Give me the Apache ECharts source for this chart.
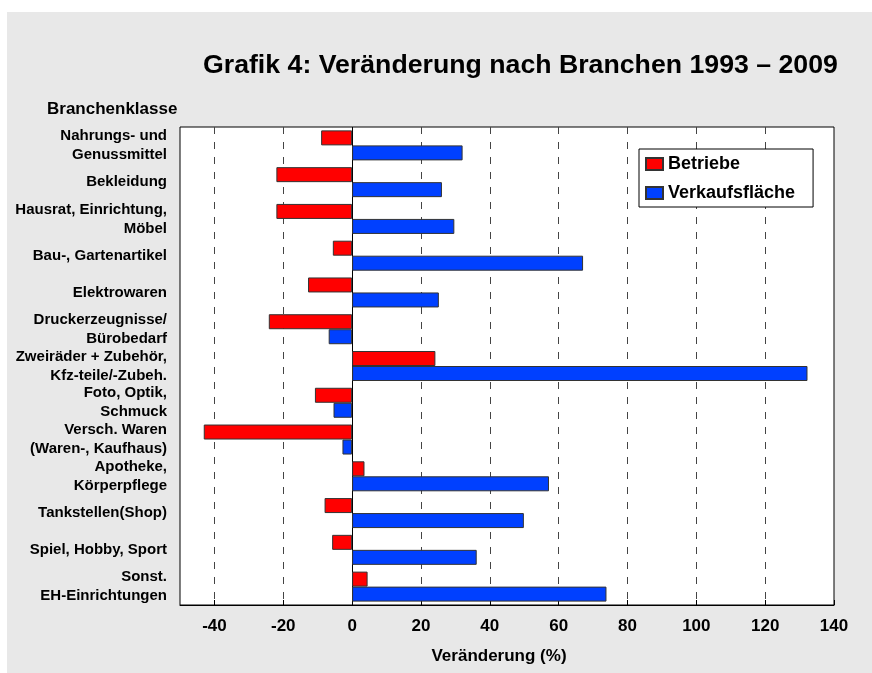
<!DOCTYPE html>
<html>
<head>
<meta charset="utf-8">
<script src="https://cdn.jsdelivr.net/npm/echarts@6/dist/echarts.min.js"></script>
<style>
  html, body { margin: 0; padding: 0; background: #fff; }
  #chart { position: absolute; left: 7px; top: 12px; width: 865px; height: 661px; }
</style>
</head>
<body>
<div id="chart"></div>
<script>
const categories = [
  'Nahrungs- und\nGenussmittel',
  'Bekleidung',
  'Hausrat, Einrichtung,\nMöbel',
  'Bau-, Gartenartikel',
  'Elektrowaren',
  'Druckerzeugnisse/\nBürobedarf',
  'Zweiräder + Zubehör,\nKfz-teile/-Zubeh.',
  'Foto, Optik,\nSchmuck',
  'Versch. Waren\n(Waren-, Kaufhaus)',
  'Apotheke,\nKörperpflege',
  'Tankstellen(Shop)',
  'Spiel, Hobby, Sport',
  'Sonst.\nEH-Einrichtungen'
]
const betriebe = [-9.0, -22.0, -22.0, -5.6, -12.8, -24.2, 24.2, -10.8, -43.1, 3.6, -8.0, -5.8, 4.5]
const verkaufsflaeche = [32.1, 26.1, 29.7, 67.1, 25.2, -6.8, 132.3, -5.4, -2.8, 57.2, 49.9, 36.2, 73.9]
const xTicks = [-40, -20, 0, 20, 40, 60, 80, 100, 120, 140]

const font = 'Liberation Sans, Arial, Helvetica, sans-serif'
const chart = echarts.init(document.getElementById('chart'))

// dashed vertical grid lines + solid zero line
const gridLines = xTicks
  .filter(v => v !== 0 && v !== 140)
  .map(v => ({ xAxis: v }))
gridLines.push({ xAxis: 0, lineStyle: { type: 'solid', color: '#000', width: 1 } })

chart.setOption({
  backgroundColor: '#e8e8e8',
  animation: false,
  title: [
    {
      text: 'Grafik 4: Veränderung nach Branchen 1993 – 2009',
      left: 191,
      top: 35,
      textStyle: { fontFamily: font, fontSize: 26.7, fontWeight: 'bold', color: '#000' }
    },
    {
      text: 'Branchenklasse',
      left: 35,
      top: 84,
      textStyle: { fontFamily: font, fontSize: 17, fontWeight: 'bold', color: '#000' }
    }
  ],
  legend: {
    orient: 'vertical',
    left: 632,
    top: 137,
    icon: 'rect',
    backgroundColor: '#fff',
    borderColor: '#000',
    borderWidth: 1,
    padding: [6, 18, 5, 6],
    itemWidth: 17,
    itemHeight: 12,
    itemGap: 11,
    textStyle: { fontFamily: font, fontSize: 18, fontWeight: 'bold', color: '#000', lineHeight: 17 },
    data: ['Betriebe', 'Verkaufsfläche']
  },
  grid: {
    left: 173,
    top: 115,
    right: 38,
    bottom: 68,
    show: true,
    backgroundColor: '#fff',
    borderColor: '#000',
    borderWidth: 1
  },
  xAxis: {
    type: 'value',
    min: -50,
    max: 140,
    name: 'Veränderung (%)',
    nameLocation: 'middle',
    nameGap: 43,
    nameTextStyle: { fontFamily: font, fontSize: 17, fontWeight: 'bold', color: '#000', padding: [0, 16, 0, 0] },
    axisLine: { show: true, lineStyle: { color: '#000' } },
    axisTick: { show: true, inside: true, length: 5, customValues: xTicks, lineStyle: { color: '#000' } },
    axisLabel: {
      customValues: xTicks,
      margin: 13,
      fontFamily: font,
      fontSize: 17,
      fontWeight: 'bold',
      color: '#000'
    },
    splitLine: { show: false }
  },
  yAxis: {
    type: 'category',
    inverse: true,
    data: categories,
    axisLine: { show: false, onZero: false },
    axisTick: { show: false },
    axisLabel: {
      margin: 13,
      fontFamily: font,
      fontSize: 15,
      fontWeight: 'bold',
      lineHeight: 19,
      color: '#000'
    }
  },
  series: [
    {
      name: 'Betriebe',
      type: 'bar',
      data: betriebe,
      barWidth: 15,
      barGap: '0%',
      itemStyle: { color: '#ff0000', borderColor: '#333', borderWidth: 1 },
      markLine: {
        silent: true,
        symbol: 'none',
        z: 1,
        label: { show: false },
        lineStyle: { type: [7, 8], color: '#444', width: 1 },
        data: gridLines
      }
    },
    {
      name: 'Verkaufsfläche',
      type: 'bar',
      data: verkaufsflaeche,
      barWidth: 15,
      barGap: '0%',
      itemStyle: { color: '#0040ff', borderColor: '#333', borderWidth: 1 }
    }
  ]
})
</script>
</body>
</html>
